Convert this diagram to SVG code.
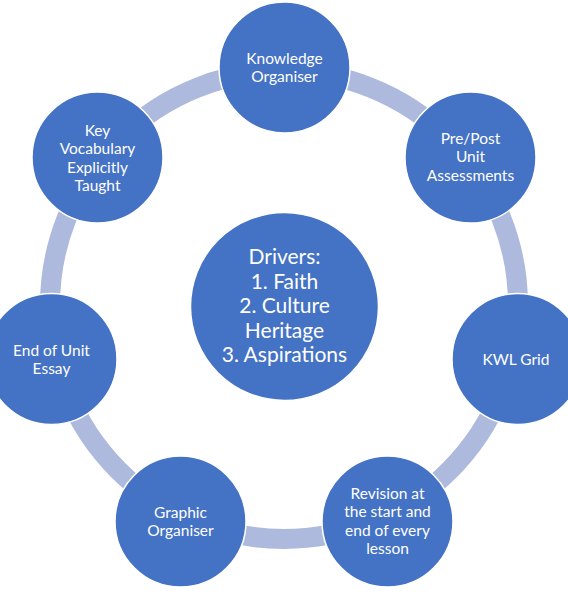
<svg xmlns="http://www.w3.org/2000/svg" width="568" height="594" viewBox="0 0 568 594">
<style>
.node{fill:#4472C4;stroke:#FFFFFF;stroke-width:1.5}
.t{font-family:Lato,"Liberation Sans",sans-serif;font-size:15.5px;fill:#FFFFFF;text-anchor:middle}
.big{font-size:21px}
</style>
<rect width="568" height="594" fill="#FFFFFF"/>
<g id="connectors">
<circle cx="284" cy="305" r="234" fill="none" stroke="#ADB9DD" stroke-width="20"/>
</g>
<g id="center">
<circle class="node" cx="284.5" cy="306.5" r="94"/>
<text class="t big" x="284.5" y="264">Drivers:</text>
<text class="t big" x="284.5" y="288.5">1. Faith</text>
<text class="t big" x="284.5" y="313">2. Culture</text>
<text class="t big" x="284.5" y="337.5">Heritage</text>
<text class="t big" x="284.5" y="362">3. Aspirations</text>
</g>
<g id="knowledge">
<circle class="node" cx="284.5" cy="67.5" r="65.5"/>
<text class="t" x="284.5" y="63.5">Knowledge</text>
<text class="t" x="284.5" y="82">Organiser</text>
</g>
<g id="prepost">
<circle class="node" cx="470.5" cy="157.5" r="65.5"/>
<text class="t" x="470.5" y="143.5">Pre/Post</text>
<text class="t" x="470.5" y="162">Unit</text>
<text class="t" x="470.5" y="180.5">Assessments</text>
</g>
<g id="kwl">
<circle class="node" cx="517.5" cy="359" r="65.5"/>
<text class="t" x="516" y="365">KWL Grid</text>
</g>
<g id="revision">
<circle class="node" cx="387.5" cy="521.5" r="65.5"/>
<text class="t" x="387.5" y="498.5">Revision at</text>
<text class="t" x="387.5" y="517">the start and</text>
<text class="t" x="387.5" y="535.5">end of every</text>
<text class="t" x="387.5" y="554">lesson</text>
</g>
<g id="graphic">
<circle class="node" cx="180.5" cy="521.5" r="65.5"/>
<text class="t" x="180.5" y="517.5">Graphic</text>
<text class="t" x="180.5" y="536">Organiser</text>
</g>
<g id="essay">
<circle class="node" cx="51.5" cy="359" r="65.5"/>
<text class="t" x="51.5" y="355.5">End of Unit</text>
<text class="t" x="51.5" y="374">Essay</text>
</g>
<g id="vocab">
<circle class="node" cx="97.5" cy="157.5" r="65.5"/>
<text class="t" x="97.5" y="135.5">Key</text>
<text class="t" x="97.5" y="154">Vocabulary</text>
<text class="t" x="97.5" y="172.5">Explicitly</text>
<text class="t" x="97.5" y="191">Taught</text>
</g>
</svg>
